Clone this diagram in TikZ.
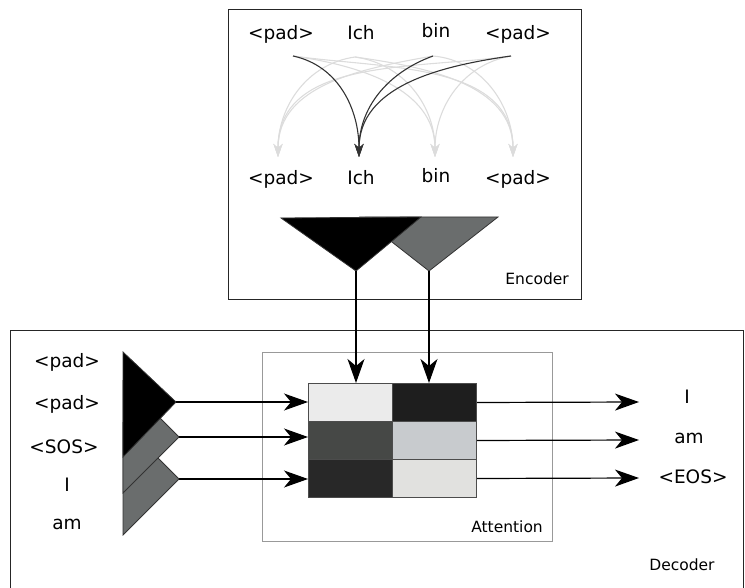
\documentclass[tikz,border=0pt]{standalone}
\usepackage{fontspec}
\setmainfont{DejaVu Sans}
\usetikzlibrary{arrows.meta}
\definecolor{trigray}{RGB}{106,109,109}
\definecolor{cA}{RGB}{235,235,235}
\definecolor{cB}{RGB}{30,30,30}
\definecolor{cC}{RGB}{70,72,70}
\definecolor{cD}{RGB}{200,203,206}
\definecolor{cE}{RGB}{40,40,40}
\definecolor{cF}{RGB}{225,225,223}
\definecolor{faint}{RGB}{220,220,220}
\begin{document}
\begin{tikzpicture}[x=1pt,y=-1pt,
  word/.style={font=\fontsize{18.5}{21}\selectfont, inner sep=0pt, anchor=base},
  lab/.style={font=\fontsize{15.5}{18}\selectfont, inner sep=0pt, anchor=base},
  frame/.style={draw=black!85, line width=1pt},
  attframe/.style={draw=black!40, line width=0.8pt},
  cell/.style={draw=black!70, line width=1pt, minimum width=84pt, minimum height=38pt, inner sep=0pt, anchor=north west},
  bigarr/.style={draw=black, line width=1.2pt, -{Stealth[length=24pt,width=17pt,inset=7pt]}},
  dark/.style={draw=black!80, line width=1.1pt, -{Stealth[length=13pt,width=9pt,inset=4pt]}},
  light/.style={draw=faint, line width=1.1pt, -{Stealth[length=13pt,width=9pt,inset=4pt]}},
  tri/.style={draw=black!80, line width=0.8pt}
]
\useasboundingbox (0,0) rectangle (745,588);

% ---------------- Encoder ----------------
\draw[frame] (228,10) rectangle (581,300);
\node[lab, anchor=base east] (enclab) at (569,285) {Encoder};

\node[word] (et1) at (281,40) {<pad>};
\node[word] (et2) at (361,40) {Ich};
\node[word] (et3) at (436,38) {bin};
\node[word] (et4) at (518,40) {<pad>};
\node[word] (eb1) at (281,185) {<pad>};
\node[word] (eb2) at (361,185) {Ich};
\node[word] (eb3) at (436,183) {bin};
\node[word] (eb4) at (518,185) {<pad>};

\coordinate (s1) at (293,56);
\coordinate (s2) at (355,57);
\coordinate (s3) at (433,56);
\coordinate (s4) at (511,56);
\coordinate (d1) at (278,157);
\coordinate (d2) at (359,157);
\coordinate (d3) at (435,157);
\coordinate (d4) at (513,157);

% faint attention arcs
\draw[light] (s2) to[out=-8,in=90] (d3);
\draw[light] (s2) to[out=-8,in=90] (d4);
\draw[light] (s1) to[out=-8,in=90] (d3);
\draw[light] (s1) to[out=-8,in=90] (d4);
\draw[light] (s3) to[out=-5,in=90] (d4);
\draw[light] (s2) to[out=188,in=90] (d1);
\draw[light] (s3) to[out=190,in=90] (d1);
\draw[light] (s4) to[out=188,in=90] (d1);
\draw[light] (s4) to[out=190,in=90] (d3);
% dark arcs to Ich
\draw[dark] (s1) to[out=-12,in=90] (d2);
\draw[dark] (s3) to[out=200,in=90] (d2);
\draw[dark] (s4) to[out=188,in=90] (d2);

% encoder triangles
\coordinate (ga) at (429,271);
\coordinate (ba) at (356,271);
\filldraw[tri, fill=trigray] (360,217) -- (498,217) -- (ga) -- cycle;
\filldraw[tri, fill=black] (281,218) -- (421,217) -- (ba) -- cycle;

% ---------------- Decoder ----------------
\draw[frame] (10,600) -- (10,331) -- (743,331) -- (743,600);
\node[lab] (declab) at (682,570) {Decoder};

\node[word] (dl1) at (67,367) {<pad>};
\node[word] (dl2) at (67,409) {<pad>};
\node[word] (dl3) at (64,453) {<SOS>};
\node[word] (dl4) at (67,491) {I};
\node[word] (dl5) at (67,529) {am};

\coordinate (da3) at (179,479);
\coordinate (da2) at (179,437);
\coordinate (da1) at (176,402);
\filldraw[tri, fill=trigray] (123,423) -- (da3) -- (123,535) -- cycle;
\filldraw[tri, fill=trigray] (123,381) -- (da2) -- (123,493) -- cycle;
\filldraw[tri, fill=black] (123,352) -- (da1) -- (123,457) -- cycle;

% attention
\draw[attframe] (262,352) rectangle (552,541);
\node[lab, anchor=base east] (attlab) at (543,532) {Attention};

\node[cell, fill=cA] (c11) at (308,383) {};
\node[cell, fill=cB] (c12) at (392,383) {};
\node[cell, fill=cC] (c21) at (308,421) {};
\node[cell, fill=cD] (c22) at (392,421) {};
\node[cell, fill=cE] (c31) at (308,459) {};
\node[cell, fill=cF] (c32) at (392,459) {};

% arrows into attention
\draw[bigarr] (ba) -- (ba |- c11.north);
\draw[bigarr] (ga) -- (ga |- c12.north);
\draw[bigarr] (da1) -- (da1 -| c11.west);
\draw[bigarr] (da2) -- (da2 -| c21.west);
\draw[bigarr] (da3) -- (da3 -| c31.west);

% outputs
\coordinate (o1) at (639,402);
\coordinate (o2) at (639,440);
\coordinate (o3) at (639,478);
\draw[bigarr] (c12.east) -- (o1);
\draw[bigarr] (c22.east) -- (o2);
\draw[bigarr] (c32.east) -- (o3);

\node[word] (do1) at (687,403) {I};
\node[word] (do2) at (689,443) {am};
\node[word] (do3) at (693,483) {<EOS>};
\end{tikzpicture}
\end{document}
